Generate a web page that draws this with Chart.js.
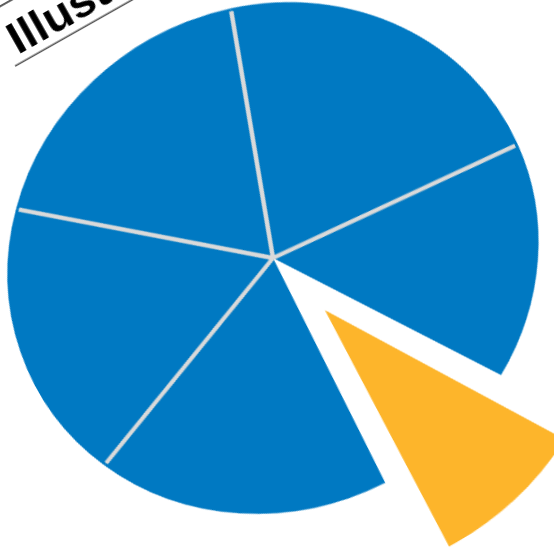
<!DOCTYPE html>
<html>
<head>
<meta charset="utf-8">
<script src="https://cdn.jsdelivr.net/npm/chart.js@4/dist/chart.umd.min.js"></script>
<style>
  html, body { margin: 0; padding: 0; background: #fff; overflow: hidden; }
  body { width: 554px; height: 550px; position: relative; }
  #frame {
    position: absolute; left: -107px; top: -122px;
    width: 760px; height: 760px;
    transform-origin: 380px 380px;
    transform: rotate(-29.5deg) scaleY(0.93);
  }
  #chart { position: absolute; left: 0; top: 0; }
  #title {
    position: absolute; left: 250px; top: -1px;
    width: 420px; height: 66px; box-sizing: border-box;
    border-top: 2px solid #555; border-bottom: 2px solid #555;
  }
  #title span {
    position: absolute; left: 8px; top: 14px;
    font: bold 47px/47px "Liberation Sans", Arial, sans-serif;
    color: #000; white-space: nowrap;
  }
</style>
</head>
<body>
<div id="frame">
  <canvas id="chart" width="760" height="760"></canvas>
  <div id="title"><span>Illustration</span></div>
</div>
<script>
const categories = ["A", "B", "C", "D", "E", "F"];
const values = [21.2, 14.9, 9.5, 17.9, 18.1, 18.4];
const colors = ["#0079C2", "#0079C2", "#FDB52B", "#0079C2", "#0079C2", "#0079C2"];
const offsets = [0, 0, 315, 0, 0, 0];

const pieRadius = 270;
const explodedRadius = 287;

// gray dividers only between slices that stay in place
const dividers = {
  id: "dividers",
  beforeDatasetsDraw(chart) {
    const arcs = chart.getDatasetMeta(0).data;
    arcs.forEach((arc, i) => {
      const off = offsets[i] / 4;
      if (!off) return;
      const fix = 1 - Math.sin(Math.min(Math.PI, arc.circumference));
      arc.outerRadius = explodedRadius - off * fix;
    });
  },
  afterDatasetsDraw(chart) {
    const ctx = chart.ctx;
    const arcs = chart.getDatasetMeta(0).data;
    ctx.save();
    ctx.strokeStyle = "#DADADA";
    ctx.lineWidth = 4.5;
    arcs.forEach((arc, i) => {
      const prev = (i + arcs.length - 1) % arcs.length;
      if (offsets[i] || offsets[prev]) return;
      ctx.beginPath();
      ctx.moveTo(arc.x, arc.y);
      ctx.lineTo(arc.x + Math.cos(arc.startAngle) * (pieRadius - 3),
                 arc.y + Math.sin(arc.startAngle) * (pieRadius - 3));
      ctx.stroke();
    });
    ctx.restore();
  }
};

new Chart(document.getElementById("chart"), {
  type: "pie",
  data: {
    labels: categories,
    datasets: [{
      data: values,
      backgroundColor: colors,
      offset: offsets,
      borderWidth: 0,
      clip: false
    }]
  },
  options: {
    responsive: false,
    animation: false,
    rotation: 18.6,
    radius: pieRadius,
    layout: { padding: 0 },
    plugins: {
      legend: { display: false },
      tooltip: { enabled: false },
      title: { display: false }
    },
    events: []
  },
  plugins: [dividers]
});
</script>
</body>
</html>
